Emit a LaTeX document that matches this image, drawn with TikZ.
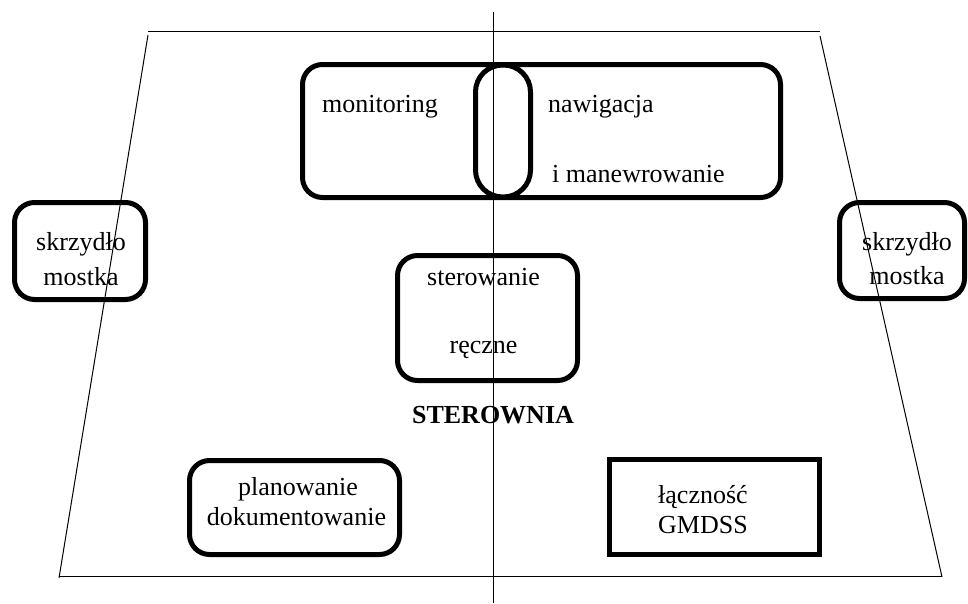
\documentclass[tikz,border=0pt]{standalone}
\usepackage{fontspec}
\setmainfont{Liberation Serif}
\usepackage{tikz}
\usetikzlibrary{positioning}
\tikzset{
  % Rounded room box
  rbox/.style={rectangle,rounded corners=20pt,draw=black,line width=5pt,
    inner sep=0pt},
  % Narrow oval overlap
  obox/.style={rectangle,rounded corners=27pt,draw=black,line width=5pt,
    inner sep=0pt},
  % Square box
  qbox/.style={rectangle,draw=black,line width=5pt,inner sep=0pt},
  % Plain text
  lbl/.style={inner sep=0pt,font=\fontsize{26}{32}\selectfont},
  % Thin outline
  thin line/.style={line width=1pt,color=black},
}
\begin{document}
\begin{tikzpicture}[x=1pt,y=-1pt]
  \useasboundingbox (0,0) rectangle (968,603);

  % Outline of the bridge
  \coordinate (tl) at (148,31);
  \coordinate (tr) at (820,31);
  \coordinate (bl) at (59,576);
  \coordinate (br) at (942,576);
  \coordinate (axtop) at (493,12);
  \coordinate (axbot) at (493,603);
  \draw[thin line] (tl) -- (tr);
  \draw[thin line] (bl) -- (br);
  \draw[thin line] ([yshift=-4pt]tl) -- ([yshift=-2pt]bl);
  \draw[thin line] ([yshift=-5pt]tr) -- ([yshift=-1pt]br);
  \draw[thin line] (axtop) -- (axbot);

  % Boxes
  \node[rbox,minimum width=478pt,minimum height=133pt] (top) at (541.5,131) {};
  \node[obox,minimum width=55pt,minimum height=132pt] (overlap) at (503,131) {};
  \node[rbox,minimum width=131pt,minimum height=97pt] (wingl) at (80,251) {};
  \node[rbox,minimum width=125pt,minimum height=96pt] (wingr) at (902,250.5) {};
  \node[rbox,minimum width=180pt,minimum height=125pt] (manual) at (487.5,318) {};
  \node[rbox,minimum width=210pt,minimum height=94pt] (plan) at (294.5,507.5) {};
  \node[qbox,minimum width=210pt,minimum height=95pt] (comm) at (714.5,507) {};

  % Texts
  \node[lbl,anchor=base west] (mon) at (322,112) {monitoring};
  \node[lbl,anchor=base west] (nav) at (548,112) {nawigacja};
  \node[lbl,anchor=base west] (man) at (552,182) {i manewrowanie};
  \node[lbl,anchor=base] (wl1) at (81,250) {skrzydło};
  \node[lbl,anchor=base] (wl2) at (81,285) {mostka};
  \node[lbl,anchor=base] (wr1) at (907,250) {skrzydło};
  \node[lbl,anchor=base] (wr2) at (907,284) {mostka};
  \node[lbl,anchor=base] (st1) at (483.5,285) {sterowanie};
  \node[lbl,anchor=base] (st2) at (483.5,353) {ręczne};
  \node[lbl,anchor=base,font=\fontsize{26}{32}\selectfont\bfseries] (room) at (493,423) {STEROWNIA};
  \node[lbl,anchor=base] (pl1) at (298,495) {planowanie};
  \node[lbl,anchor=base] (pl2) at (296.5,525) {dokumentowanie};
  \node[lbl,anchor=base west] (co1) at (658,503) {łączność};
  \node[lbl,anchor=base west] (co2) at (658,533) {GMDSS};
\end{tikzpicture}
\end{document}
